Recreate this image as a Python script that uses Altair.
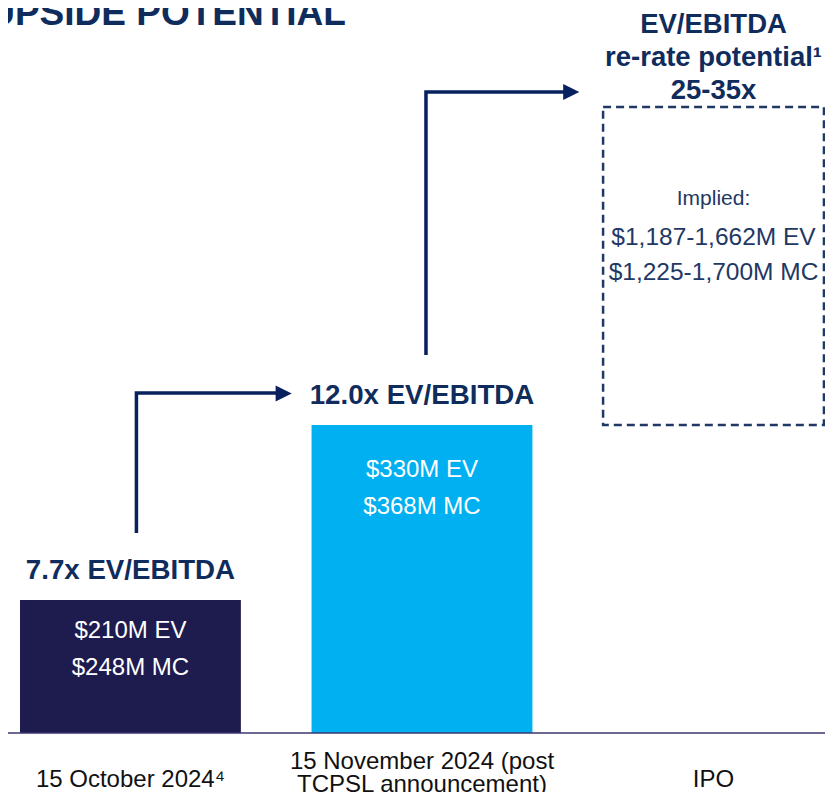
import altair as alt
import pandas as pd

# ---------------- data ----------------
slots = [0, 1, 2]
categories = ["15 October 2024⁴", "15 November 2024 (post\nTCPSL announcement)", "IPO"]
bar_heights = [133, 308]            # schematic bar heights (relative units above baseline)
multiples = ["7.7x EV/EBITDA", "12.0x EV/EBITDA"]
ev_labels = ["$210M EV", "$330M EV"]
mc_labels = ["$248M MC", "$368M MC"]
ipo_range = [308, 626]              # schematic extent of the dashed IPO box
ipo_header = ["EV/EBITDA", "re-rate potential¹", "25-35x"]
ipo_implied_title = "Implied:"
ipo_implied = ["$1,187-1,662M EV", "$1,225-1,700M MC"]
title_text = "UPSIDE POTENTIAL"

# ---------------- layout / style ----------------
W, H = 817, 784
X_DOMAIN = [-0.4200, 2.3824]
Y_DOMAIN = [-59, 725]
HALF = 0.3788
FONT = "Liberation Sans"
NAVY = "#0F2C5C"
ARROW = "#07215E"
BOX = "#1F3864"
bar_colors = ["#1E1B4F", "#00B0F0"]
ev_drop = [38, 52]
line_gap = 37
cat_label_y = [-54, -36, -54]

xs = alt.Scale(domain=X_DOMAIN, nice=False, zero=False)
ys = alt.Scale(domain=Y_DOMAIN, nice=False, zero=False)


def X(f="x"):
    return alt.X(f, type="quantitative", scale=xs, axis=None)


def Y(f="y"):
    return alt.Y(f, type="quantitative", scale=ys, axis=None)


bars = pd.DataFrame({
    "slot": slots[:2],
    "lo": [s - HALF for s in slots[:2]],
    "hi": [s + HALF for s in slots[:2]],
    "h": bar_heights,
    "base": [0, 0],
    "cat": categories[:2],
    "mult": multiples,
    "ev": ev_labels,
    "mc": mc_labels,
    "mult_y": [h + 21 for h in bar_heights],
    "ev_y": [h - d for h, d in zip(bar_heights, ev_drop)],
    "mc_y": [h - d - line_gap for h, d in zip(bar_heights, ev_drop)],
})

bar_layer = alt.Chart(bars).mark_rect().encode(
    x=X("lo"), x2="hi", y=Y("base"), y2="h",
    color=alt.Color("cat:N", scale=alt.Scale(domain=categories[:2], range=bar_colors), legend=None),
)

mult_layer = alt.Chart(bars).mark_text(
    font=FONT, fontSize=27.7, fontWeight="bold", color=NAVY, align="center", baseline="alphabetic"
).encode(x=X("slot"), y=Y("mult_y"), text="mult:N")

ev_layer = alt.Chart(bars).mark_text(
    font=FONT, fontSize=24, color="#FFFFFF", align="center", baseline="alphabetic"
).encode(x=X("slot"), y=Y("ev_y"), text="ev:N")

mc_layer = alt.Chart(bars).mark_text(
    font=FONT, fontSize=24, color="#FFFFFF", align="center", baseline="alphabetic"
).encode(x=X("slot"), y=Y("mc_y"), text="mc:N")

# dashed IPO box
box = pd.DataFrame({"lo": [slots[2] - HALF], "hi": [slots[2] + HALF],
                    "y0": [ipo_range[0]], "y1": [ipo_range[1]], "slot": [slots[2]],
                    "head": ["\n".join(ipo_header)], "head_y": [700],
                    "imp": [ipo_implied_title], "imp_y": [528],
                    "vals": ["\n".join(ipo_implied)], "vals_y": [488]})
box_layer = alt.Chart(box).mark_rect(
    fill=None, fillOpacity=0, stroke=BOX, strokeWidth=2.5, strokeDash=[8, 5]
).encode(x=X("lo"), x2="hi", y=Y("y0"), y2="y1")

head_layer = alt.Chart(box).mark_text(
    font=FONT, fontSize=27.5, fontWeight="bold", color=NAVY, align="center",
    baseline="alphabetic", lineBreak="\n", lineHeight=33
).encode(x=X("slot"), y=Y("head_y"), text="head:N")

imp_layer = alt.Chart(box).mark_text(
    font=FONT, fontSize=21, color=BOX, align="center", baseline="alphabetic"
).encode(x=X("slot"), y=Y("imp_y"), text="imp:N")

vals_layer = alt.Chart(box).mark_text(
    font=FONT, fontSize=24.5, color=BOX, align="center", baseline="alphabetic",
    lineBreak="\n", lineHeight=35
).encode(x=X("slot"), y=Y("vals_y"), text="vals:N")

# category labels under the baseline
cats = pd.DataFrame({"slot": slots, "cat": categories, "y": cat_label_y})
cat_layer = alt.Chart(cats).mark_text(
    font=FONT, fontSize=24, color="#111111", align="center", baseline="alphabetic",
    lineBreak="\n", lineHeight=23
).encode(x=X("slot"), y=Y("y"), text="cat:N")

# baseline rule
base_layer = alt.Chart(pd.DataFrame({"y": [0]})).mark_rule(
    color="#3B3670", strokeWidth=1.5
).encode(y=Y("y"), x=alt.value(0), x2=alt.value(W))

# elbow arrows
arrows = pd.DataFrame({
    "arrow": ["a1", "a1", "a1", "a2", "a2", "a2"],
    "ord": [0, 1, 2, 0, 1, 2],
    "x": [0.0205, 0.0205, 0.50, 1.0137, 1.0137, 1.49],
    "y": [200, 340, 340, 378, 641, 641],
})
arrow_layer = alt.Chart(arrows).mark_line(
    color=ARROW, strokeWidth=3.5, strokeCap="butt", strokeJoin="miter"
).encode(x=X("x"), y=Y("y"), detail="arrow:N", order="ord:Q")

heads = pd.DataFrame({"x": [0.5256, 1.512], "y": [339.5, 641]})
head_pts = alt.Chart(heads).mark_point(
    shape="M-1,-1L1,0L-1,1Z", filled=True, fill=ARROW, stroke=None, size=260, opacity=1
).encode(x=X("x"), y=Y("y"))

# clipped title at top-left
title_df = pd.DataFrame({"x": [-0.488], "y": [708], "t": [title_text]})
title_layer = alt.Chart(title_df).mark_text(
    font=FONT, fontSize=37, fontWeight="bold", color=NAVY, align="left", baseline="alphabetic"
).encode(x=X("x"), y=Y("y"), text="t:N")

chart = alt.layer(
    bar_layer, box_layer, base_layer, arrow_layer, head_pts,
    mult_layer, ev_layer, mc_layer, head_layer, imp_layer, vals_layer, cat_layer, title_layer
).properties(
    width=W, height=H, padding=0, autosize="none"
).configure_view(stroke=None)

chart.save("out.html", embed_options={"renderer": "svg", "actions": False})
